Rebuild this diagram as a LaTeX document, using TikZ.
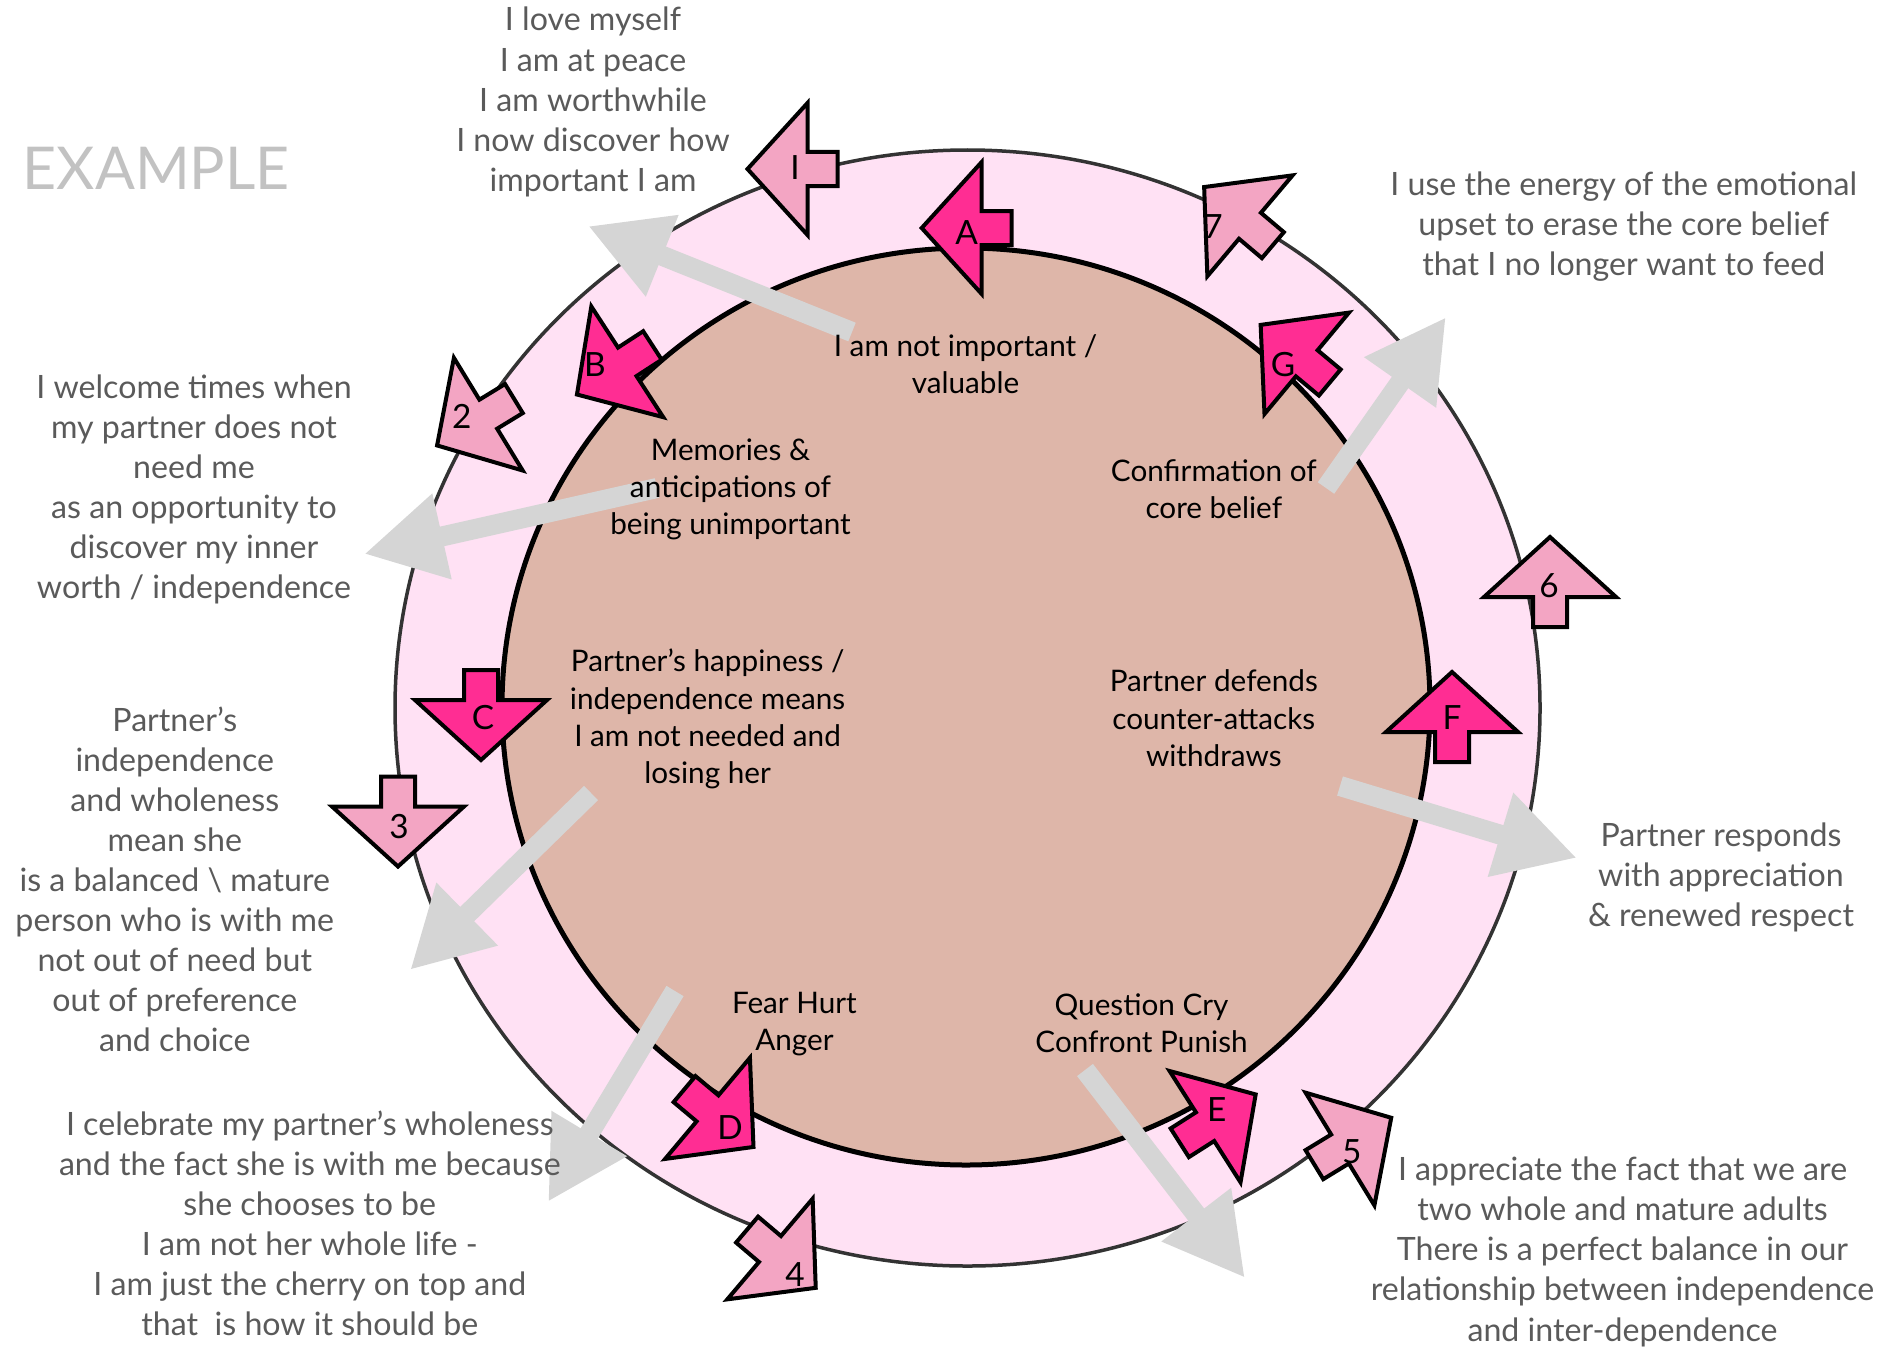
\documentclass[tikz,border=0pt]{standalone}
\usepackage{fontspec}
\setmainfont{Lato}
\usetikzlibrary{arrows.meta}
\definecolor{ringfill}{HTML}{FFE1F4}
\definecolor{corefill}{HTML}{DEB6A9}
\definecolor{hotpink}{HTML}{FF2D93}
\definecolor{softpink}{HTML}{F3A5C3}
\definecolor{greyarrow}{HTML}{D5D5D5}
\definecolor{outtext}{HTML}{5A5A5A}
\definecolor{exgrey}{HTML}{C2C2C2}
\definecolor{ringline}{HTML}{333333}
\newcommand{\blockarrow}[6]{%
  \draw[#4, shift={#2}, rotate=#3] (45,0) -- (-15,66) -- (-15,17) -- (-45,17) -- (-45,-17) -- (-15,-17) -- (-15,-66) -- cycle;
  \node[blklabel] (#1) at #5 {#6};}
\begin{document}
\begin{tikzpicture}[x=0.1mm,y=-0.1mm,
  outer/.style={align=center, text=outtext, font=\fontsize{9.15}{11.4}\selectfont, inner sep=0},
  innertxt/.style={align=center, text=black, font=\fontsize{8.45}{10.6}\selectfont, inner sep=0},
  garrow/.style={draw=greyarrow, line width=2mm, -{Triangle[length=8mm,width=8.2mm]}},
  blkdark/.style={fill=hotpink, draw=black, line width=0.4mm, line join=miter},
  blklight/.style={fill=softpink, draw=black, line width=0.4mm, line join=miter},
  blklabel/.style={font=\fontsize{9.5}{12}\selectfont, inner sep=0}
]
\useasboundingbox (0,0) rectangle (1890,1347);
% rings
\draw[fill=ringfill, draw=ringline, line width=0.35mm] (967.5,708) ellipse [x radius=572.5, y radius=558];
\draw[fill=corefill, draw=black, line width=0.5mm] (966,706.5) ellipse [x radius=464, y radius=458.5];
% grey arrows
\coordinate (g1s) at (852,332);  \coordinate (g1e) at (588,226);
\coordinate (g2s) at (657,488);  \coordinate (g2e) at (364,554);
\coordinate (g3s) at (591,793);  \coordinate (g3e) at (410,970);
\coordinate (g4s) at (675,991);  \coordinate (g4e) at (548,1202);
\coordinate (g5s) at (1085,1070); \coordinate (g5e) at (1245,1278);
\coordinate (g6s) at (1340,786); \coordinate (g6e) at (1577,858);
\coordinate (g7s) at (1326,488); \coordinate (g7e) at (1446,317);
\foreach \i in {1,...,7} {\draw[garrow] (g\i s) -- (g\i e);}
% block arrows (inner ring)
\blockarrow{A}{(966.7,228)}{180}{blkdark}{(966.7,233)}{A}
\blockarrow{B}{(614.7,370)}{213}{blkdark}{(595,365)}{B}
\blockarrow{C}{(481,715)}{270}{blkdark}{(483,718)}{C}
\blockarrow{D}{(719,1118)}{320}{blkdark}{(730,1128)}{D}
\blockarrow{E}{(1217.7,1118.6)}{32.5}{blkdark}{(1216.7,1110)}{E}
\blockarrow{F}{(1452,717)}{90}{blkdark}{(1452,718)}{F}
\blockarrow{G}{(1295.2,353.7)}{140.2}{blkdark}{(1283,365)}{G}
% block arrows (outer ring)
\blockarrow{n1}{(792.5,169)}{180}{blklight}{(795,168)}{I}
\blockarrow{n2}{(475.5,422)}{211.4}{blklight}{(461.7,416.7)}{2}
\blockarrow{n3}{(398,821.5)}{270}{blklight}{(399,827)}{3}
\blockarrow{n4}{(781.4,1258.7)}{319.7}{blklight}{(795,1275)}{4}
\blockarrow{n5}{(1352.8,1141.2)}{31.4}{blklight}{(1351.7,1151.7)}{5}
\blockarrow{n6}{(1550,582)}{90}{blklight}{(1549,586)}{6}
\blockarrow{n7}{(1238.5,216.1)}{139.8}{blklight}{(1213,227)}{7}
% inner texts
\node[innertxt] (ta) at (965.5,364) {I am not important /\\valuable};
\node[innertxt] (tb) at (730.5,489.4) {Memories \&\\anticipations of\\being unimportant};
\node[innertxt] (tc) at (707.6,719) {Partner’s happiness /\\independence means\\I am not needed and\\losing her};
\node[innertxt] (td) at (794.4,1024) {Fear Hurt\\Anger};
\node[innertxt] (te) at (1141.5,1023.4) {Question Cry\\Confront Punish};
\node[innertxt] (tf) at (1213.8,718.4) {Partner defends\\counter-attacks\\withdraws};
\node[innertxt] (tg) at (1213.8,489.4) {Confirmation of\\core belief};
% outer texts
\node[outer] (o1) at (593,102) {I love myself\\I am at peace\\I am worthwhile\\I now discover how\\important I am};
\node[outer] (o2) at (1623.7,226.6) {I use the energy of the emotional\\upset to erase the core belief\\that I no longer want to feed};
\node[outer] (o3) at (194,489.4) {I welcome times when\\my partner does not\\need me\\as an opportunity to\\discover my inner\\worth / independence};
\node[outer] (o4) at (174.8,879.3) {Partner’s\\independence\\and wholeness\\mean she\\is a balanced \textbackslash{} mature\\person who is with me\\not out of need but\\out of preference\\and choice};
\node[outer] (o5) at (1721,877.5) {Partner responds\\with appreciation\\\& renewed respect};
\node[outer] (o6) at (309.8,1223.5) {I celebrate my partner’s wholeness\\and the fact she is with me because\\she chooses to be\\I am not her whole life -\\I am just the cherry on top and\\that\ \ is how it should be};
\node[outer] (o7) at (1622.5,1251.8) {I appreciate the fact that we are\\two whole and mature adults\\There is a perfect balance in our\\relationship between independence\\and inter-dependence};
\node[anchor=west, text=exgrey, font=\fontsize{16.8}{20}\selectfont, inner sep=0] (ex) at (22,168.8) {EXAMPLE};
\end{tikzpicture}
\end{document}
